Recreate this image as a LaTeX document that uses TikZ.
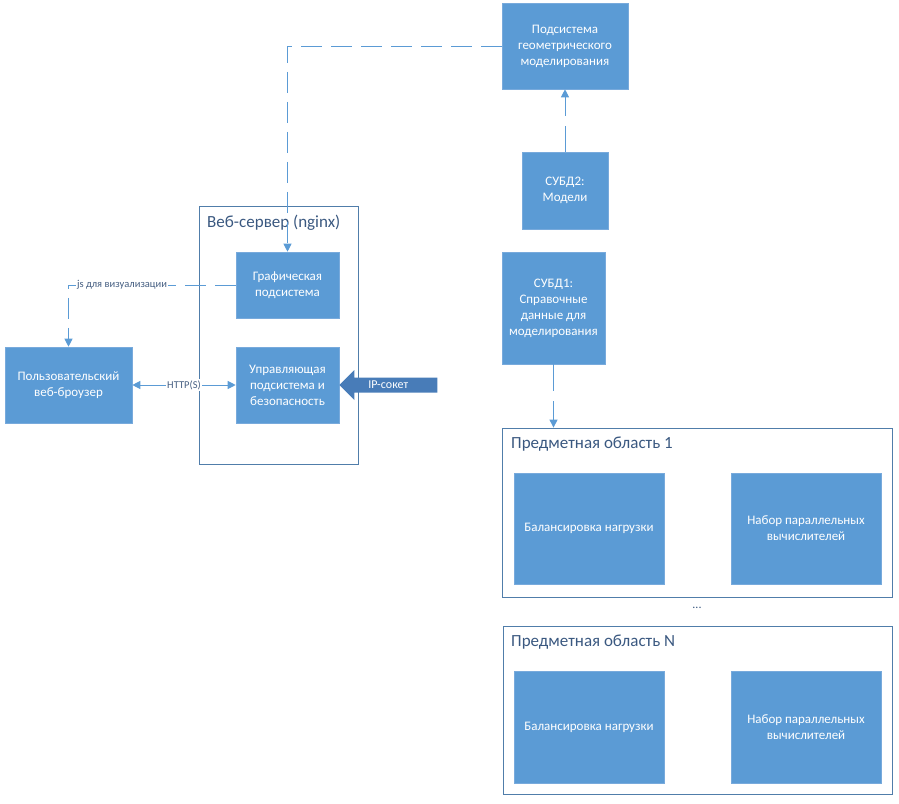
\documentclass[tikz,border=0pt]{standalone}
\usepackage{fontspec}
\setmainfont{Carlito}
\usetikzlibrary{arrows.meta,positioning,calc}
\definecolor{boxc}{RGB}{91,155,213}
\definecolor{boxe}{RGB}{120,170,220}
\definecolor{ipc}{RGB}{72,124,184}
\definecolor{linec}{RGB}{91,155,213}
\definecolor{framec}{RGB}{80,125,170}
\definecolor{titlec}{RGB}{58,88,128}
\definecolor{labc}{RGB}{70,95,130}
\tikzset{
  bluebox/.style={rectangle, fill=boxc, draw=boxe, line width=0.6pt, text=white, align=center,
    font=\fontsize{13}{16}\selectfont, inner sep=2pt},
  frame/.style={rectangle, draw=framec, line width=0.8pt, fill=none},
  ftitle/.style={anchor=west, text=titlec, font=\fontsize{17}{19}\selectfont, inner sep=0pt},
  conn/.style={draw=linec, line width=1pt},
  tip/.style={-{Triangle[length=8pt,width=8pt]}},
  ldash/.style={dash pattern=on 21pt off 9pt},
  gapnode/.style={fill=white, inner sep=0pt, minimum width=4pt, minimum height=10pt},
  clabel/.style={fill=white, inner sep=1pt, text=labc, font=\fontsize{10.5}{12}\selectfont},
}
\begin{document}
\begin{tikzpicture}[x=1pt,y=-1pt]
\useasboundingbox (0,0) rectangle (899,803);

% containers
\node[frame, minimum width=159pt, minimum height=258pt] (web) at (278.5,335) {};
\node[ftitle] (webt) at (207,223) {Веб-сервер (nginx)};
\node[frame, minimum width=390pt, minimum height=169pt] (dom1) at (697,512.5) {};
\node[ftitle] (dom1t) at (511,444) {Предметная область 1};
\node[frame, minimum width=389pt, minimum height=168pt] (domN) at (697.5,710) {};
\node[ftitle] (domNt) at (511,642) {Предметная область N};

% boxes
\node[bluebox, minimum width=126pt, minimum height=86pt] (geo) at (565,46) {Подсистема\\геометрического\\моделирования};
\node[bluebox, minimum width=86pt, minimum height=77pt] (db2) at (565,190.5) {СУБД2:\\Модели};
\node[bluebox, minimum width=103pt, minimum height=112pt] (db1) at (553.5,308) {СУБД1:\\Справочные\\данные для\\моделирования};
\node[bluebox, minimum width=103pt, minimum height=66pt] (gr) at (287.5,285) {Графическая\\подсистема};
\node[bluebox, minimum width=103pt, minimum height=76pt] (ctl) at (287.5,385) {Управляющая\\подсистема и\\безопасность};
\node[bluebox, minimum width=127pt, minimum height=76pt] (br) at (68.5,385) {Пользовательский\\веб-броузер};
\node[bluebox, minimum width=150pt, minimum height=111pt] (bal1) at (589,528.5) {Балансировка нагрузки};
\node[bluebox, minimum width=150pt, minimum height=111pt] (cmp1) at (806,528.5) {Набор параллельных\\вычислителей};
\node[bluebox, minimum width=150pt, minimum height=112pt] (balN) at (589,727) {Балансировка нагрузки};
\node[bluebox, minimum width=150pt, minimum height=112pt] (cmpN) at (806,727) {Набор параллельных\\вычислителей};
\node[text=titlec, font=\fontsize{12}{13}\selectfont, inner sep=0pt] (dots) at (697,608) {...};

% connectors
\draw[conn, tip] (db2.north) -- node[gapnode]{} (geo.south);
\draw[conn, tip] (db1.south) -- node[gapnode]{} (db1.south |- dom1.north);
\draw[conn, tip, ldash] (geo.west) -| (gr.north);
\draw[conn, tip, ldash] (gr.west) -| node[clabel, pos=0.34] (jsl) {js для визуализации} (br.north);
\draw[conn, {Triangle[length=8pt,width=8pt]}-{Triangle[length=8pt,width=8pt]}] (br.east) -- node[clabel] (httpl) {HTTP(S)} (ctl.west);

% IP socket block arrow
\fill[ipc] (ctl.east) -- ++(15,-15) -- ++(0,7.5) -- ++(83,0) -- ++(0,15) -- ++(-83,0) -- ++(0,7.5) -- cycle;
\node[text=white, font=\fontsize{12}{13}\selectfont, inner sep=0pt] (ipl) at ($(ctl.east)+(49,0)$) {IP-сокет};
\end{tikzpicture}
\end{document}
